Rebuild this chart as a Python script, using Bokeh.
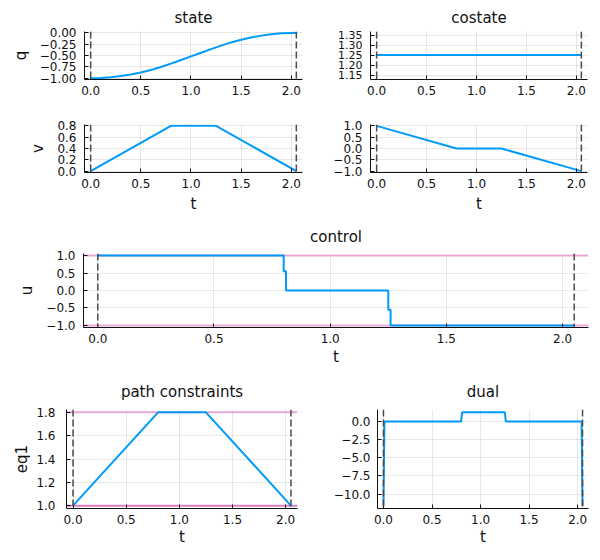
from bokeh.embed import file_html
from bokeh.layouts import column, row
from bokeh.models import FixedTicker, Range1d, Span
from bokeh.plotting import figure
from bokeh.resources import INLINE

BLUE = "#009af9"
BOUND = "#eaa8d8"
BOUND_LOW = "#d97cc6"
DASH = "#4a4a4a"
FONT = "DejaVu Sans"

# time horizon
t0 = 0.0
tf = 2.05

# state
t_q = [0.0, 0.1, 0.2, 0.3, 0.4, 0.5, 0.6, 0.7, 0.8, 0.9, 1.0, 1.1, 1.2,
       1.25, 1.3, 1.4, 1.5, 1.6, 1.7, 1.8, 1.9, 2.0, 2.05]
q = [-1.0, -0.995, -0.98, -0.955, -0.92, -0.875, -0.82, -0.755, -0.68,
     -0.60, -0.52, -0.44, -0.36, -0.32, -0.281, -0.211, -0.151, -0.101,
     -0.061, -0.031, -0.011, -0.001, 0.0]
t_v = [0.0, 0.8, 1.25, 2.05]
v = [0.0, 0.8, 0.8, 0.0]

# costate
t_pq = [0.0, 2.05]
p_q = [1.25, 1.25]
t_pv = [0.0, 0.8, 1.25, 2.05]
p_v = [1.0, 0.0, 0.0, -1.0]

# control
t_u = [0.0, 0.80, 0.80, 0.81, 0.81, 1.25, 1.25, 1.26, 1.26, 2.05]
u = [1.0, 1.0, 0.55, 0.55, 0.0, 0.0, -0.55, -0.55, -1.0, -1.0]
u_bounds = [-1.0, 1.0]

# path constraint + dual
t_eq = [0.0, 0.8, 1.25, 2.05]
eq1 = [1.0, 1.8, 1.8, 1.0]
eq1_bounds = [1.0, 1.8]
t_dual = [0.0, 0.01, 0.80, 0.81, 1.25, 1.26, 2.04, 2.05]
dual = [-11.6, 0.0, 0.0, 1.25, 1.25, 0.0, 0.0, -11.6]

# ticks
x_ticks = [0.0, 0.5, 1.0, 1.5, 2.0]
x_labels = ["0.0", "0.5", "1.0", "1.5", "2.0"]
q_ticks = [0.0, -0.25, -0.5, -0.75, -1.0]
q_labels = ["0.00", "\u22120.25", "\u22120.50", "\u22120.75", "\u22121.00"]
v_ticks = [0.0, 0.2, 0.4, 0.6, 0.8]
v_labels = ["0.0", "0.2", "0.4", "0.6", "0.8"]
pq_ticks = [1.15, 1.2, 1.25, 1.3, 1.35]
pq_labels = ["1.15", "1.20", "1.25", "1.30", "1.35"]
unit_ticks = [-1.0, -0.5, 0.0, 0.5, 1.0]
unit_labels = ["\u22121.0", "\u22120.5", "0.0", "0.5", "1.0"]
eq_ticks = [1.0, 1.2, 1.4, 1.6, 1.8]
eq_labels = ["1.0", "1.2", "1.4", "1.6", "1.8"]
dual_ticks = [0.0, -2.5, -5.0, -7.5, -10.0]
dual_labels = ["0.0", "\u22122.5", "\u22125.0", "\u22127.5", "\u221210.0"]

X_RANGE = (-0.0615, 2.1115)


def panel(width, height, borders, y_range, y_ticks, y_labels,
          title=None, xlabel=None, ylabel=None, title_standoff=10,
          ytick_size="12px", ylabel_standoff=8, yaxis_label_standoff=7,
          xaxis_label_standoff=4):
    left, right, top, bottom = borders
    kw = {}
    if title is not None:
        kw["title"] = title
    p = figure(width=width, height=height,
               x_range=Range1d(*X_RANGE), y_range=Range1d(*y_range),
               min_border_left=left, min_border_right=right,
               min_border_top=top, min_border_bottom=bottom,
               toolbar_location=None, output_backend="svg", **kw)
    p.outline_line_color = None
    if title is not None:
        p.title.align = "center"
        p.title.text_font = FONT
        p.title.text_font_size = "15px"
        p.title.text_font_style = "normal"
        p.title.text_color = "#111111"
        p.title.standoff = title_standoff

    xt = FixedTicker(ticks=x_ticks)
    yt = FixedTicker(ticks=y_ticks)
    p.xaxis.ticker = xt
    p.xgrid.ticker = xt
    p.yaxis.ticker = yt
    p.ygrid.ticker = yt
    p.xaxis.major_label_overrides = dict(zip(x_ticks, x_labels))
    p.yaxis.major_label_overrides = dict(zip(y_ticks, y_labels))

    for ax in (p.xaxis[0], p.yaxis[0]):
        ax.major_tick_in = 4
        ax.major_tick_out = 0
        ax.minor_tick_line_color = None
        ax.axis_line_color = "#111111"
        ax.major_tick_line_color = "#111111"
        ax.major_label_text_font = FONT
        ax.major_label_text_font_size = "12px"
        ax.major_label_text_color = "#111111"
        ax.axis_label_text_font = FONT
        ax.axis_label_text_font_size = "15px"
        ax.axis_label_text_font_style = "normal"
        ax.axis_label_text_color = "#111111"
    p.yaxis.major_label_text_font_size = ytick_size
    p.xaxis.major_label_standoff = 6
    p.yaxis.major_label_standoff = ylabel_standoff
    p.xaxis.axis_label_standoff = xaxis_label_standoff
    p.yaxis.axis_label_standoff = yaxis_label_standoff
    if xlabel:
        p.xaxis.axis_label = xlabel
    if ylabel:
        p.yaxis.axis_label = ylabel

    p.grid.grid_line_color = "black"
    p.grid.grid_line_alpha = 0.09
    p.grid.grid_line_width = 1
    return p


def time_marks(p):
    for loc in (t0, tf):
        p.add_layout(Span(location=loc, dimension="height", line_color=DASH,
                          line_dash="7 3", line_width=1.5))


def bounds(p, levels, colors):
    for lev, col in zip(levels, colors):
        p.add_layout(Span(location=lev, dimension="width", line_color=col,
                          line_width=2, level="underlay"))


# row 1: q and p_q
p1 = panel(330, 100, (84, 28, 31, 21), (-1.03, 0.03), q_ticks, q_labels,
           title="state", ylabel="q", title_standoff=10)
p1.line(t_q, q, line_color=BLUE, line_width=2)
time_marks(p1)

p2 = panel(270, 100, (40, 13, 31, 21), (1.128, 1.368), pq_ticks, pq_labels,
           title="costate", title_standoff=10, ytick_size="11px")
p2.line(t_pq, p_q, line_color=BLUE, line_width=2)
time_marks(p2)

# row 2: v and p_v
p3 = panel(330, 115, (84, 28, 24, 43), (-0.024, 0.824), v_ticks, v_labels,
           xlabel="t", ylabel="v")
p3.line(t_v, v, line_color=BLUE, line_width=2)
time_marks(p3)

p4 = panel(270, 115, (40, 13, 24, 43), (-1.06, 1.06), unit_ticks,
           unit_labels, xlabel="t")
p4.line(t_pv, p_v, line_color=BLUE, line_width=2)
time_marks(p4)

# control
p5 = panel(600, 155, (83, 12, 38, 43), (-1.06, 1.06), unit_ticks,
           unit_labels, title="control", xlabel="t", ylabel="u",
           title_standoff=16, xaxis_label_standoff=2)
bounds(p5, u_bounds, [BOUND, BOUND])
p5.line(t_u, u, line_color=BLUE, line_width=2)
time_marks(p5)

# path constraints and dual
p6 = panel(330, 184, (66, 33, 39, 46), (0.976, 1.824), eq_ticks, eq_labels,
           title="path constraints", xlabel="t", ylabel="eq1",
           title_standoff=17, ylabel_standoff=11, yaxis_label_standoff=2,
           xaxis_label_standoff=1)
bounds(p6, eq1_bounds, [BOUND_LOW, BOUND])
p6.line(t_eq, eq1, line_color=BLUE, line_width=2)
time_marks(p6)

p7 = panel(270, 184, (43, 12, 39, 46), (-11.99, 1.64), dual_ticks,
           dual_labels, title="dual", xlabel="t", title_standoff=17,
           ylabel_standoff=7, xaxis_label_standoff=1)
time_marks(p7)
p7.line(t_dual, dual, line_color=BLUE, line_width=2)

layout = column(row(p1, p2), row(p3, p4), p5, row(p6, p7))

open("out.html", "w").write(file_html(layout, INLINE))
